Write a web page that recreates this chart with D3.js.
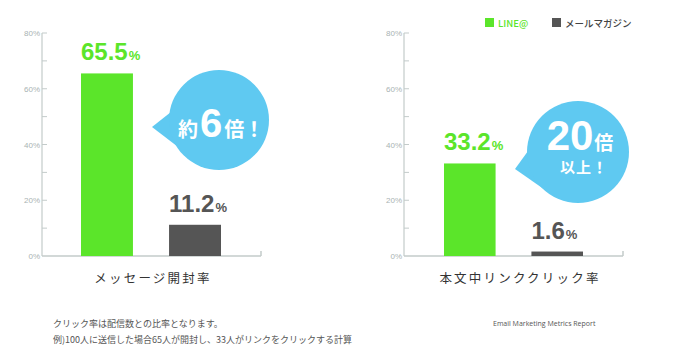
<!DOCTYPE html>
<html>
<head>
<meta charset="utf-8">
<script src="https://cdn.jsdelivr.net/npm/d3@7/dist/d3.min.js"></script>
<style>
  body { margin: 0; background: #fff; }
  svg { display: block; }
</style>
</head>
<body>
<svg id="chart" width="673" height="351"></svg>
<script>
var series = ["LINE@", "メールマガジン"];
var colors = ["#5be52a", "#555555"];
var metrics = ["メッセージ開封率", "本文中リンククリック率"];
var openRate = [65.5, 11.2];
var clickRate = [33.2, 1.6];
var yTicks = [0, 10, 20, 30, 40, 50, 60, 70, 80];
var notes = ["クリック率は配信数との比率となります。", "例)100人に送信した場合65人が開封し、33人がリンクをクリックする計算"];
var source = "Email Marketing Metrics Report";

var svg = d3.select("#chart");
var jp = "'Noto Sans CJK JP', sans-serif";
var num = "'Liberation Sans', Arial, sans-serif";
var axisColor = "#c3cbca";
var bubbleColor = "#5fc9f1";

var y = d3.scaleLinear().domain([0, 80]).range([256, 33]);

function drawPanel(axisX, axisEnd, barRange, values, title, titleX) {
    var g = svg.append("g");

    var x = d3.scaleBand().domain(series).range(barRange).paddingInner(0.41).paddingOuter(0);

    // axis lines
    g.append("line").attr("x1", axisX).attr("x2", axisX).attr("y1", y(80)).attr("y2", y(0))
        .attr("stroke", axisColor).attr("stroke-width", 1.2);
    g.append("line").attr("x1", axisX).attr("x2", axisEnd).attr("y1", y(0)).attr("y2", y(0))
        .attr("stroke", axisColor).attr("stroke-width", 1.5);
    g.append("line").attr("x1", axisEnd).attr("x2", axisEnd).attr("y1", y(0) - 5).attr("y2", y(0))
        .attr("stroke", axisColor).attr("stroke-width", 1.5);

    g.selectAll(".tick").data(yTicks.slice(1)).enter().append("line")
        .attr("x1", axisX).attr("x2", axisX + 5)
        .attr("y1", function(d) { return y(d); }).attr("y2", function(d) { return y(d); })
        .attr("stroke", axisColor).attr("stroke-width", 1);

    g.selectAll(".lbl").data(yTicks.filter(function(d) { return d % 20 === 0; })).enter().append("text")
        .attr("x", axisX - 2).attr("y", function(d) { return y(d) + 3; })
        .attr("text-anchor", "end").attr("font-family", num).attr("font-size", 8)
        .attr("fill", "#a9b3b3").text(function(d) { return d + "%"; });

    g.selectAll("rect").data(values).enter().append("rect")
        .attr("x", function(d, i) { return x(series[i]); })
        .attr("y", function(d) { return y(d); })
        .attr("width", x.bandwidth())
        .attr("height", function(d) { return y(0) - y(d); })
        .attr("fill", function(d, i) { return colors[i]; });

    var vl = g.selectAll(".val").data(values).enter().append("text")
        .attr("x", function(d, i) { return x(series[i]); })
        .attr("y", function(d) { return y(d) - 13; })
        .attr("font-family", num).attr("font-weight", "bold")
        .attr("fill", function(d, i) { return colors[i]; });
    vl.append("tspan").attr("font-size", 24).text(function(d) { return d; });
    vl.append("tspan").attr("font-size", 13).attr("dx", 1).text("%");

    g.append("text").attr("x", titleX).attr("y", 283).attr("text-anchor", "middle")
        .attr("font-family", jp).attr("font-size", 12.5).attr("font-weight", 400)
        .attr("letter-spacing", 2.2).attr("fill", "#333").text(title);
    return g;
}

var left = drawPanel(42, 261, [81, 221], openRate, metrics[0], 153);
var right = drawPanel(404, 623, [444, 583], clickRate, metrics[1], 520);

// bubbles
function bubble(cx, cy, r, tip, base) {
    svg.append("path")
        .attr("d", "M" + base[0] + "L" + tip + "L" + base[1] + "Z")
        .attr("fill", bubbleColor);
    svg.append("circle").attr("cx", cx).attr("cy", cy).attr("r", r).attr("fill", bubbleColor);
}
bubble(219, 120, 50, [152, 127], [[176, 108], [182, 150]]);
bubble(578, 152, 51, [515, 169], [[536, 140], [548, 192]]);

var b1 = svg.append("text").attr("x", 221).attr("y", 137).attr("text-anchor", "middle")
    .attr("fill", "#fff").attr("font-weight", "bold");
b1.append("tspan").attr("font-family", jp).attr("font-size", 20).text("約");
b1.append("tspan").attr("font-family", num).attr("font-size", 40).attr("dx", 2).text("6");
b1.append("tspan").attr("font-family", jp).attr("font-size", 20).attr("dx", 2).text("倍！");

var b2 = svg.append("text").attr("x", 580).attr("y", 150).attr("text-anchor", "middle")
    .attr("fill", "#fff").attr("font-weight", "bold");
b2.append("tspan").attr("font-family", num).attr("font-size", 42).text("20");
b2.append("tspan").attr("font-family", jp).attr("font-size", 19).attr("dx", 1).text("倍");
svg.append("text").attr("x", 584).attr("y", 173).attr("text-anchor", "middle")
    .attr("fill", "#fff").attr("font-weight", "bold").attr("font-family", jp)
    .attr("font-size", 15).attr("letter-spacing", 1).text("以上！");

// legend
var legX = [485, 552];
var leg = svg.append("g").selectAll("g").data(series).enter().append("g")
    .attr("transform", function(d, i) { return "translate(" + legX[i] + ",18)"; });
leg.append("rect").attr("width", 9).attr("height", 9).attr("fill", function(d, i) { return colors[i]; });
leg.append("text").attr("x", 13).attr("y", 8.5).attr("font-family", jp).attr("font-size", 9.5)
    .attr("font-weight", 500)
    .attr("fill", function(d, i) { return i === 0 ? colors[0] : "#444"; }).text(function(d) { return d; });

// notes
svg.selectAll(".note").data(notes).enter().append("text")
    .attr("x", 53).attr("y", function(d, i) { return 327 + i * 16; })
    .attr("font-family", jp).attr("font-size", 9).attr("fill", "#555").text(function(d) { return d; });
svg.append("text").attr("x", 493).attr("y", 326).attr("font-family", "'Open Sans', sans-serif")
    .attr("font-size", 7).attr("fill", "#555").text(source);
</script>
</body>
</html>
